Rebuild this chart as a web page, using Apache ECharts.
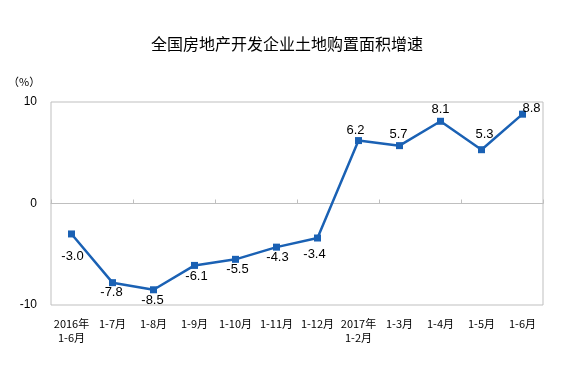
<!DOCTYPE html>
<html><head><meta charset="utf-8">
<script src="https://cdn.jsdelivr.net/npm/echarts@6/dist/echarts.min.js"></script>
<style>html,body{margin:0;padding:0;background:#fff}#c{width:574px;height:365px}</style>
</head><body><div id="c"></div>
<script>
const categories = ['2016年\n1-6月','1-7月','1-8月','1-9月','1-10月','1-11月','1-12月','2017年\n1-2月','1-3月','1-4月','1-5月','1-6月'];
const values = [-3.0, -7.8, -8.5, -6.1, -5.5, -4.3, -3.4, 6.2, 5.7, 8.1, 5.3, 8.8];
const yTicks = [-10, 0, 10];
const labelOffsets = [[1,7],[-1,-5],[-1,-4],[2,-4],[2,-5],[1,-5],[-3,1],[-3,5],[-1,4],[0,3],[3,0],[9,9]];

const chart = echarts.init(document.getElementById('c'));
const data = values.map((v,i)=>({
  value: v,
  label: {position: v < 0 ? 'bottom' : 'top', offset: labelOffsets[i]}
}));
chart.setOption({
  animation: false,
  title: {text: '全国房地产开发企业土地购置面积增速', left: 'center', top: 31,
    textStyle: {fontSize: 16, fontWeight: 'normal', color: '#000', fontFamily: 'Noto Sans CJK SC'}},
  graphic: [{type: 'text', left: 8, top: 76, style: {text: '（%）', fontSize: 11, fill: '#000', fontFamily: 'Noto Sans CJK SC'}}],
  grid: {left: 51, right: 31, top: 102, bottom: 60, show: true, borderColor: '#bfbfbf', borderWidth: 1},
  xAxis: [
    {type: 'category', data: categories, position: 'bottom', axisLine: {show: false, onZero: false}, axisTick: {show: false},
      axisLabel: {interval: 0, fontSize: 11, color: '#000', margin: 12, lineHeight: 14, fontFamily: 'Noto Sans CJK SC'}},
    {type: 'category', data: categories, position: 'bottom', axisLine: {show: true, onZero: true, lineStyle: {color: '#bfbfbf', width: 1}},
      axisTick: {show: true, inside: true, length: 4, lineStyle: {color: '#bfbfbf'}}, axisLabel: {show: false}}
  ],
  yAxis: {type: 'value', min: yTicks[0], max: yTicks[yTicks.length-1], interval: 10,
    axisLine: {show: false}, axisTick: {show: false}, splitLine: {show: false},
    axisLabel: {fontSize: 12, color: '#000', margin: 14, fontFamily: 'Liberation Sans'}},
  series: [{
    type: 'line', xAxisIndex: 0, data: data,
    symbol: 'rect', symbolSize: 7,
    lineStyle: {color: '#1a61b4', width: 2.5},
    itemStyle: {color: '#1a61b4'},
    label: {show: true, fontSize: 13, color: '#000', fontFamily: 'Liberation Sans', formatter: p => p.value.toFixed(1)}
  }]
});
</script></body></html>
